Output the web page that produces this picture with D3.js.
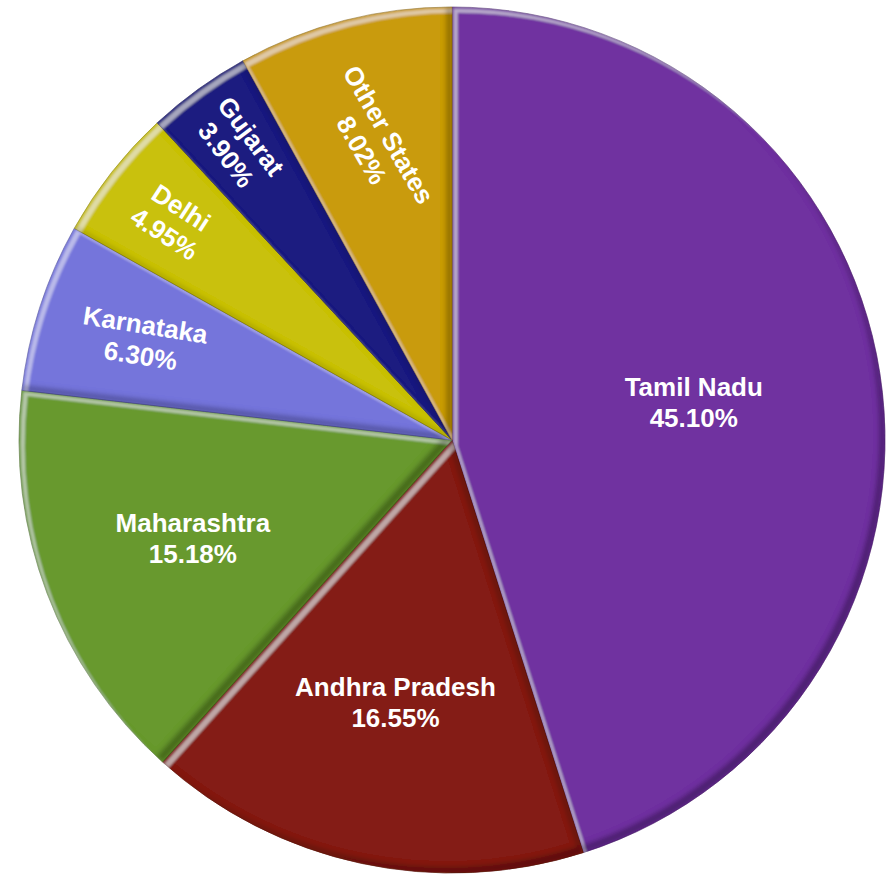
<!DOCTYPE html>
<html>
<head>
<meta charset="utf-8">
<script src="https://cdn.jsdelivr.net/npm/d3@7"></script>
<style>
  html, body { margin: 0; padding: 0; background: #fff; }
  svg { display: block; }
</style>
</head>
<body>
<svg id="chart" width="890" height="874"></svg>
<script>
// ---- data ----
const categories = ["Tamil Nadu", "Andhra Pradesh", "Maharashtra", "Karnataka", "Delhi", "Gujarat", "Other States"];
const values = [45.10, 16.55, 15.18, 6.30, 4.95, 3.90, 8.02];
const valueLabels = ["45.10%", "16.55%", "15.18%", "6.30%", "4.95%", "3.90%", "8.02%"];
const colors = ["#7030A0", "#841F16", "#67992D", "#7474DB", "#C9C10A", "#1F1B80", "#C99B0A"];

// ---- layout config ----
const labelRadiusFrac = [0.565, 0.62, 0.64, 0.75, 0.82, 0.84, 0.71];
const labelRotate = [0, 0, 0, 9, 33, 53, 60];

const cx = 452, cy = 440, R = 433;
const svg = d3.select("#chart");

const defs = svg.append("defs");
const f = defs.append("filter").attr("id", "bevel")
  .attr("x", "-5%").attr("y", "-5%").attr("width", "110%").attr("height", "110%");
// highlight band a few px in from top-left edges
f.append("feOffset").attr("in", "SourceAlpha").attr("dx", 6).attr("dy", 6).attr("result", "o8");
f.append("feOffset").attr("in", "SourceAlpha").attr("dx", 2).attr("dy", 2).attr("result", "o2");
f.append("feComposite").attr("in", "SourceAlpha").attr("in2", "o8").attr("operator", "out").attr("result", "b8");
f.append("feComposite").attr("in", "SourceAlpha").attr("in2", "o2").attr("operator", "out").attr("result", "b2");
f.append("feComposite").attr("in", "b8").attr("in2", "b2").attr("operator", "out").attr("result", "band");
f.append("feGaussianBlur").attr("in", "band").attr("stdDeviation", 1.3).attr("result", "bandB");
f.append("feComposite").attr("in", "bandB").attr("in2", "SourceAlpha").attr("operator", "in").attr("result", "bandC");
f.append("feFlood").attr("flood-color", "#ffffff").attr("flood-opacity", 0.38).attr("result", "white");
f.append("feComposite").attr("in", "white").attr("in2", "bandC").attr("operator", "in").attr("result", "hl");
// dark band on bottom-right edges
f.append("feOffset").attr("in", "SourceAlpha").attr("dx", -6).attr("dy", -6).attr("result", "offB");
f.append("feComposite").attr("in", "SourceAlpha").attr("in2", "offB").attr("operator", "out").attr("result", "rimBR");
f.append("feGaussianBlur").attr("in", "rimBR").attr("stdDeviation", 2.5).attr("result", "rimBRb");
f.append("feComposite").attr("in", "rimBRb").attr("in2", "SourceAlpha").attr("operator", "in").attr("result", "rimBRc");
f.append("feFlood").attr("flood-color", "#000000").attr("flood-opacity", 0.55).attr("result", "black");
f.append("feComposite").attr("in", "black").attr("in2", "rimBRc").attr("operator", "in").attr("result", "sh");
const m = f.append("feMerge");
m.append("feMergeNode").attr("in", "SourceGraphic");
m.append("feMergeNode").attr("in", "hl");
m.append("feMergeNode").attr("in", "sh");

const data = categories.map((c, i) => ({ name: c, value: values[i], label: valueLabels[i], i }));

const pie = d3.pie().value(d => d.value).sort(null);
const arcs = pie(data);
const arc = d3.arc().innerRadius(0).outerRadius(R);

const g = svg.append("g").attr("transform", `translate(${cx},${cy})`);

// dark backing so the seams between slices read dark
g.append("circle").attr("r", R - 1).attr("fill", "#2a2a2a");

g.selectAll("path.slice").data(arcs).join("path")
  .attr("class", "slice")
  .attr("d", arc)
  .attr("fill", d => colors[d.data.i])
  .attr("stroke", d => d3.color(colors[d.data.i]).darker(1))
  .attr("stroke-width", 0.6)
  .attr("filter", "url(#bevel)");

const tg = svg.append("g").attr("transform", `translate(${cx},${cy})`);
const fs = 26, lh = 31, capHalf = 9.3;
arcs.forEach(d => {
  const i = d.data.i;
  const a = (d.startAngle + d.endAngle) / 2;
  const rr = R * labelRadiusFrac[i];
  const x = rr * Math.sin(a), y = -rr * Math.cos(a);
  const t = tg.append("text")
    .attr("transform", `translate(${x},${y}) rotate(${labelRotate[i]})`)
    .attr("text-anchor", "middle")
    .attr("font-family", "'Liberation Sans', Arial, sans-serif")
    .attr("font-weight", "bold")
    .attr("font-size", fs)
    .attr("fill", "#ffffff");
  t.append("tspan").attr("x", 0).attr("y", -lh / 2 + capHalf).text(d.data.name);
  t.append("tspan").attr("x", 0).attr("y", lh / 2 + capHalf).text(d.data.label);
});
</script>
</body>
</html>
